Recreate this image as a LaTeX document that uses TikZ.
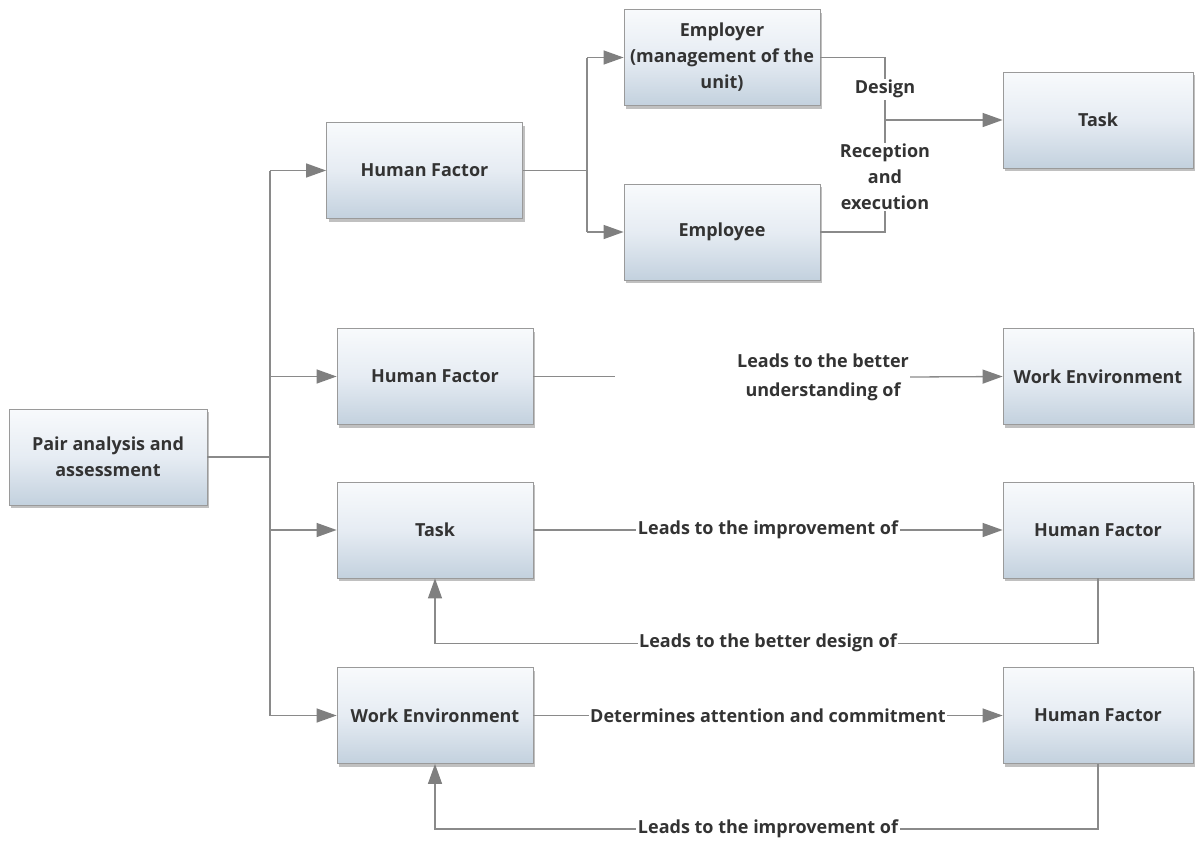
\documentclass[tikz,border=0pt]{standalone}
\usepackage{fontspec}
\setmainfont{Open Sans}
\usetikzlibrary{arrows.meta,shadows}
\definecolor{boxtop}{HTML}{F8FAFC}
\definecolor{boxmid}{HTML}{E6ECF3}
\definecolor{boxbot}{HTML}{C3D1DE}
\definecolor{frame}{HTML}{9A9A9A}
\definecolor{wire}{HTML}{8A8A8A}
\definecolor{tip}{HTML}{7F7F7F}
\definecolor{ink}{HTML}{333333}
\tikzset{
  box/.style={draw=frame, line width=0.8pt, top color=boxtop, bottom color=boxbot, middle color=boxmid,
    minimum width=196pt, minimum height=96pt, align=center, text=ink, inner sep=2pt,
    font=\fontsize{18}{26}\selectfont\bfseries,
    drop shadow={shadow xshift=2pt, shadow yshift=-3pt, opacity=0.45, fill=black!55}},
  conn/.style={draw=wire, line width=1.3pt},
  arr/.style={conn, -{Triangle[length=20pt,width=14pt,color=tip]}},
  lbl/.style={fill=white, text=ink, inner sep=1.5pt, align=center,
    font=\fontsize{18}{29}\selectfont\bfseries}
}
\begin{document}
\begin{tikzpicture}[x=1pt, y=-1pt]
\useasboundingbox (0,0) rectangle (1195,841);

% boxes
\node[box, minimum width=198pt] (pair) at (108,457) {Pair analysis and\\assessment};
\node[box] (hfa) at (424.5,170.5) {Human Factor};
\node[box] (employer) at (722,57.5) {Employer\\(management of the\\unit)};
\node[box] (employee) at (722,232) {Employee};
\node[box, minimum width=190pt] (taskt) at (1098,120) {Task};
\node[box] (hfb) at (435,376.5) {Human Factor};
\node[box, minimum width=190pt] (wer) at (1098,376.5) {Work Environment};
\node[box] (taskm) at (435,530) {Task};
\node[box, minimum width=190pt] (hfm) at (1098,530) {Human Factor};
\node[box] (wel) at (435,715.5) {Work Environment};
\node[box, minimum width=190pt] (hfl) at (1098,715.5) {Human Factor};

% main trunk
\coordinate (tj) at (270,457);
\draw[conn] (pair.east) -- (tj);
\draw[conn] (tj |- hfa) -- (tj |- wel);
\draw[arr] (tj |- hfa) -- (hfa.west);
\draw[arr] (tj |- hfb) -- (hfb.west);
\draw[arr] (tj |- taskm) -- (taskm.west);
\draw[arr] (tj |- wel) -- (wel.west);

% human factor split
\coordinate (sj) at (587,170.5);
\draw[conn] (hfa.east) -- (sj);
\draw[conn] (sj |- employer) -- (sj |- employee);
\draw[arr] (sj |- employer) -- (employer.west);
\draw[arr] (sj |- employee) -- (employee.west);

% employer / employee to task
\coordinate (dj) at (885,120);
\draw[conn] (employer.east) -| (dj) |- (employee.east);
\draw[arr] (dj) -- (taskt.west);
\node[lbl] (design) at (885,89) {Design};
\node[lbl, font=\fontsize{18}{26}\selectfont\bfseries] (recep) at (885,177) {Reception\\and\\execution};

% human factor to work environment
\draw[conn] (hfb.east) -- (615,376.5) coordinate (hfbend);
\node[text=ink, align=center, inner sep=1pt, font=\fontsize{18}{29}\selectfont\bfseries] (under) at (823,377) {Leads to the better\\understanding of};
\draw[arr] (under.east) -- (wer.west);

% task loop
\draw[arr] (taskm.east) -- (hfm.west);
\draw[arr] (hfm.south) -- ++(0,65) -| (taskm.south);
\node[lbl] (impa) at (768,530) {Leads to the improvement of};
\node[lbl] (desb) at (768,643) {Leads to the better design of};

% work environment loop
\draw[arr] (wel.east) -- (hfl.west);
\draw[arr] (hfl.south) -- ++(0,65) -| (wel.south);
\node[lbl] (atten) at (768,716) {Determines attention and commitment};
\node[lbl] (impb) at (768,829) {Leads to the improvement of};
\end{tikzpicture}
\end{document}
